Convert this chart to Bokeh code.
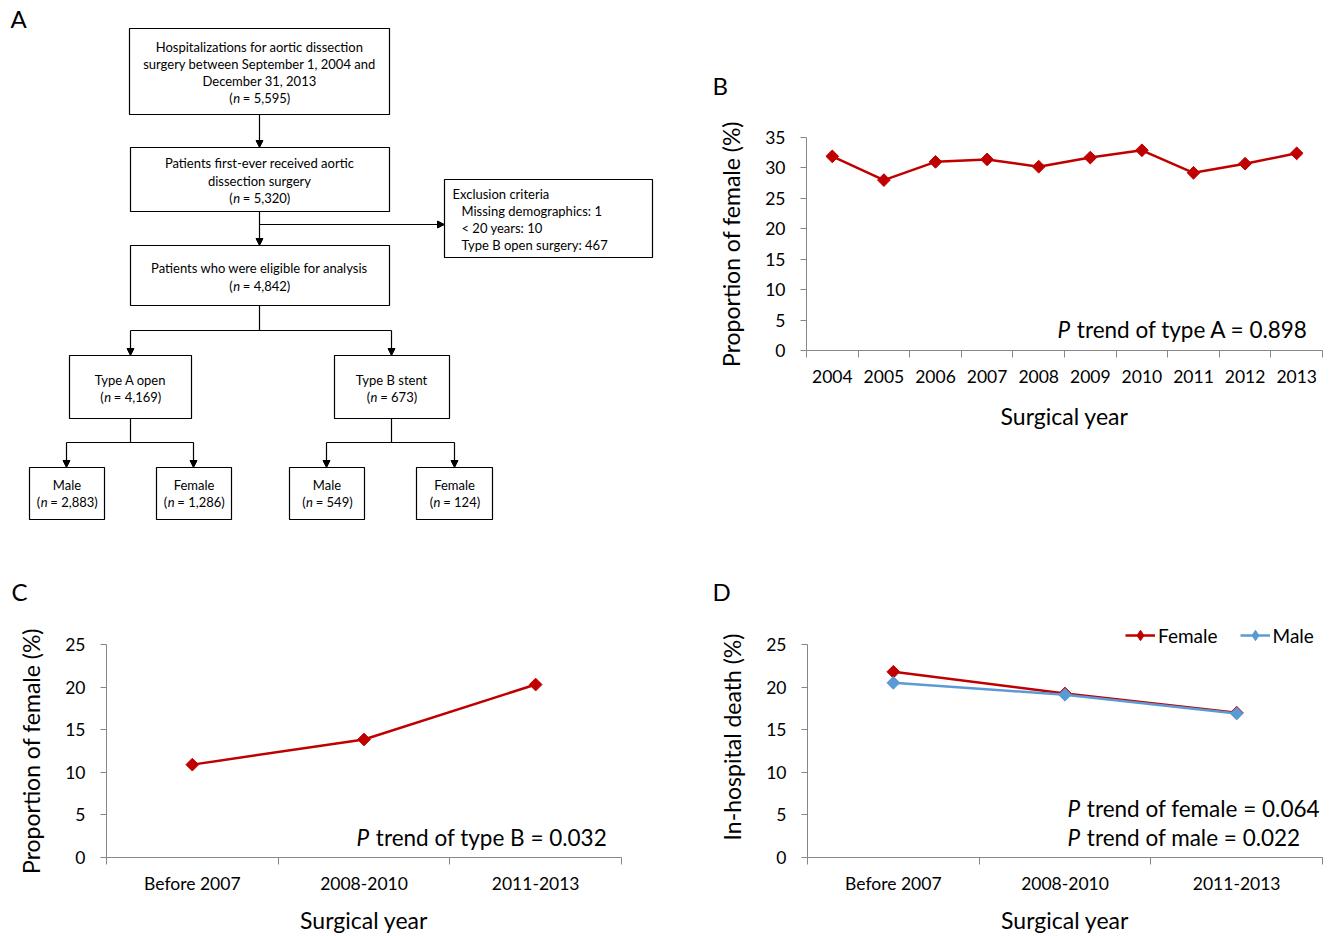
import numpy as np
from bokeh.plotting import figure
from bokeh.layouts import column, row
from bokeh.models import Range1d, FixedTicker, Label, Legend, LegendItem, Arrow, NormalHead
from bokeh.embed import file_html
from bokeh.resources import INLINE
from bokeh.core.properties import value

FONT = "Lato"
RED = "#C00000"
BLUE = "#5B9BD5"
GREY = "#868686"

# ---------------- data ----------------
years = ["2004", "2005", "2006", "2007", "2008", "2009", "2010", "2011", "2012", "2013"]
female_pct_type_a = [31.9, 28.0, 31.0, 31.4, 30.2, 31.7, 32.9, 29.2, 30.7, 32.4]

periods = ["Before 2007", "2008-2010", "2011-2013"]
female_pct_type_b = [10.9, 13.85, 20.3]
death_female = [21.8, 19.25, 17.0]
death_male = [20.5, 19.1, 16.9]

yticks_b = [0, 5, 10, 15, 20, 25, 30, 35]
yticks_cd = [0, 5, 10, 15, 20, 25]

p_trend_a = "0.898"
p_trend_b = "0.032"
p_trend_female = "0.064"
p_trend_male = "0.022"

# flowchart counts
n_hosp = "5,595"
n_first = "5,320"
n_eligible = "4,842"
n_type_a = "4,169"
n_type_b = "673"
n_a_male = "2,883"
n_a_female = "1,286"
n_b_male = "549"
n_b_female = "124"
excl_missing = 1
excl_young = 10
excl_typeb_open = 467


def text_width(s, fs):
    w = {" ": 0.19, "(": 0.30, ")": 0.30, "=": 0.55, ",": 0.24, ".": 0.24, "n": 0.55}
    tot = 0.0
    for c in s:
        if c.isdigit():
            tot += 0.58
        else:
            tot += w.get(c, 0.5)
    return tot * fs


def blank(width, height):
    p = figure(width=width, height=height, x_range=Range1d(0, width), y_range=Range1d(height, 0),
               output_backend="svg", toolbar_location=None,
               x_axis_location=None, y_axis_location=None, min_border=0,
               outline_line_color=None)
    p.grid.visible = False
    p.frame_align = False
    return p


# ---------------- panel A: flowchart ----------------
FS = 13
pa = blank(700, 530)


def txt(p, x, y, s, align="center", size=FS, style="normal"):
    p.text(x=[x], y=[y], text=[s], text_font=value(FONT), text_font_size=f"{size}px",
           text_align=align, text_baseline="middle", text_color="black",
           text_font_style=style)


def n_line(p, cx, y, count):
    rest = f"= {count})"
    w_open = text_width("(", FS)
    w_n = text_width("n", FS)
    w_sp = text_width(" ", FS)
    w_rest = text_width(rest, FS)
    x0 = cx - (w_open + w_n + w_sp + w_rest) / 2
    txt(p, x0, y, "(", align="left")
    txt(p, x0 + w_open, y, "n", align="left", style="italic")
    txt(p, x0 + w_open + w_n + w_sp, y, rest, align="left")


def box(p, l, r, t, b):
    p.quad(left=[l], right=[r], top=[t], bottom=[b], fill_color=None,
           line_color="black", line_width=1.2)


def arrow(p, x0, y0, x1, y1):
    p.add_layout(Arrow(end=NormalHead(size=7, fill_color="black", line_color="black", line_width=1),
                       x_start=x0, y_start=y0, x_end=x1, y_end=y1,
                       line_color="black", line_width=1.2))


def seg(p, x0, y0, x1, y1):
    p.segment(x0=[x0], y0=[y0], x1=[x1], y1=[y1], line_color="black", line_width=1.2)


txt(pa, 10, 18, "A", align="left", size=24)

box(pa, 129, 389, 28, 114)
txt(pa, 259, 46, "Hospitalizations for aortic dissection")
txt(pa, 259, 63, "surgery between September 1, 2004 and")
txt(pa, 259, 80, "December 31, 2013")
n_line(pa, 259, 97, n_hosp)
arrow(pa, 259, 114, 259, 147)

box(pa, 130, 389, 147, 211)
txt(pa, 259, 162, "Patients first-ever received aortic")
txt(pa, 259, 180, "dissection surgery")
n_line(pa, 259, 197, n_first)
arrow(pa, 259, 211, 259, 245)
arrow(pa, 259, 224, 444, 224)

box(pa, 444, 652, 179, 257)
txt(pa, 452, 193, "Exclusion criteria", align="left")
txt(pa, 461, 210, f"Missing demographics: {excl_missing}", align="left")
txt(pa, 461, 227, f"< 20 years: {excl_young}", align="left")
txt(pa, 461, 244, f"Type B open surgery: {excl_typeb_open}", align="left")

box(pa, 130, 389, 245, 305)
txt(pa, 259, 267, "Patients who were eligible for analysis")
n_line(pa, 259, 285, n_eligible)
seg(pa, 259, 305, 259, 330)
seg(pa, 130, 330, 391, 330)
arrow(pa, 130, 330, 130, 355)
arrow(pa, 391, 330, 391, 355)

box(pa, 69, 191, 355, 418)
txt(pa, 130, 379, "Type A open")
n_line(pa, 130, 396, n_type_a)
box(pa, 334, 449, 355, 418)
txt(pa, 391, 379, "Type B stent")
n_line(pa, 391, 396, n_type_b)

seg(pa, 130, 418, 130, 442)
seg(pa, 66, 442, 193, 442)
arrow(pa, 66, 442, 66, 467)
arrow(pa, 193, 442, 193, 467)
seg(pa, 391, 418, 391, 442)
seg(pa, 326, 442, 454, 442)
arrow(pa, 326, 442, 326, 467)
arrow(pa, 454, 442, 454, 467)

for (l, r, lab, cnt) in [(29, 104, "Male", n_a_male), (156, 231, "Female", n_a_female),
                         (289, 364, "Male", n_b_male), (416, 492, "Female", n_b_female)]:
    box(pa, l, r, 467, 519)
    cx = (l + r) / 2
    txt(pa, cx, 484, lab)
    n_line(pa, cx, 501, cnt)


# ---------------- chart helpers ----------------
def make_chart(width, height, ncat, ymax, yaxis_max, bl, br, bt, bb, xlabels, yticks, ylab,
               tick_standoff, xl_standoff):
    p = figure(width=width, height=height, x_range=Range1d(-0.5, ncat - 0.5),
               y_range=Range1d(0, ymax), output_backend="svg", toolbar_location=None,
               min_border_left=bl, min_border_right=br, min_border_top=bt,
               min_border_bottom=bb, outline_line_color=None)
    p.frame_align = False
    p.grid.visible = False
    xa = p.xaxis[0]
    xa.ticker = FixedTicker(ticks=list(range(ncat)),
                            minor_ticks=[i - 0.5 for i in range(ncat + 1)])
    xa.major_label_overrides = {i: lab for i, lab in enumerate(xlabels)}
    xa.major_tick_line_color = None
    xa.major_tick_out = 0
    xa.major_tick_in = 0
    xa.minor_tick_line_color = GREY
    xa.minor_tick_out = 7
    xa.minor_tick_in = 0
    xa.major_label_standoff = tick_standoff
    xa.axis_label = "Surgical year"
    xa.axis_label_standoff = xl_standoff
    ya = p.yaxis[0]
    ya.ticker = FixedTicker(ticks=yticks)
    ya.bounds = (0, yaxis_max)
    ya.minor_tick_line_color = None
    ya.major_tick_out = 6
    ya.major_tick_in = 0
    ya.major_tick_line_color = GREY
    ya.major_label_standoff = 15
    ya.axis_label = ylab
    ya.axis_label_standoff = 17
    for ax in (xa, ya):
        ax.axis_line_color = GREY
        ax.axis_line_width = 1
        ax.major_label_text_font = FONT
        ax.major_label_text_font_size = "17.5px"
        ax.major_label_text_color = "black"
        ax.axis_label_text_font = FONT
        ax.axis_label_text_font_size = "23px"
        ax.axis_label_text_font_style = "normal"
        ax.axis_label_text_color = "black"
    return p


def to_data(frame_left, frame_right, frame_top, frame_bottom, ncat, ymax):
    def fx(px):
        return -0.5 + (px - frame_left) / (frame_right - frame_left) * ncat

    def fy(py):
        return (frame_bottom - py) / (frame_bottom - frame_top) * ymax
    return fx, fy


PT = 22.5


def add_text(p, x, y, s, size, style="normal"):
    p.add_layout(Label(x=x, y=y, text=s, text_font=FONT, text_font_size=f"{size}px",
                       text_font_style=style, text_baseline="middle", text_align="left",
                       text_color="black"))


def p_trend(p, fx, fy, px_left, py, rest):
    add_text(p, fx(px_left), fy(py), "P", PT, style="italic")
    add_text(p, fx(px_left + 0.86 * PT), fy(py), rest, PT)


def series(p, xs, ys, color):
    lr = p.line(xs, ys, line_color=color, line_width=2.5)
    # diamond key for the legend, drawn beneath (and hidden by) the rotated-square marker
    kr = p.scatter(xs, ys, marker="diamond", size=11, fill_color=color, line_color=color)
    sr = p.scatter(xs, ys, marker="square", angle=np.pi / 4, size=9,
                   fill_color=color, line_color=color)
    return lr, kr, sr


# ---------------- panel B ----------------
hb = blank(632, 100)
txt(hb, 12, 85, "B", align="left", size=24)
pb = make_chart(632, 430, len(years), 35, 35, 106, 10, 37, 180, years, yticks_b,
                "Proportion of female (%)", 12, 16)
fxb, fyb = to_data(806, 1322, 137, 350, len(years), 35)
series(pb, list(range(len(years))), female_pct_type_a, RED)
p_trend(pb, fxb, fyb, 1057, 329, f"trend of type A = {p_trend_a}")

# ---------------- panel C ----------------
hc = blank(700, 90)
txt(hc, 11, 61, "C", align="left", size=24)
pc = make_chart(700, 316, len(periods), 25, 25, 106, 79, 24, 79, periods, yticks_cd,
                "Proportion of female (%)", 8, 9)
fxc, fyc = to_data(106, 621, 644, 857, len(periods), 25)
series(pc, list(range(len(periods))), female_pct_type_b, RED)
p_trend(pc, fxc, fyc, 356, 837, f"trend of type B = {p_trend_b}")

# ---------------- panel D ----------------
# frame extends above the 25 line so that the legend sits inside it
D_TOP, D_BOTTOM, D_25 = 616, 857, 644
ymax_d = 25 * (D_BOTTOM - D_TOP) / (D_BOTTOM - D_25)
hd = blank(632, 76)
txt(hd, 12, 61, "D", align="left", size=24)
pd_ = make_chart(632, 330, len(periods), ymax_d, 25, 107, 10, 10, 79, periods, yticks_cd,
                 "In-hospital death (%)", 8, 9)
fxd, fyd = to_data(807, 1322, D_TOP, D_BOTTOM, len(periods), ymax_d)
lf, kf, sf = series(pd_, list(range(len(periods))), death_female, RED)
lm, km, sm = series(pd_, list(range(len(periods))), death_male, BLUE)
p_trend(pd_, fxd, fyd, 1067, 808, f"trend of female = {p_trend_female}")
p_trend(pd_, fxd, fyd, 1067, 837, f"trend of male = {p_trend_male}")

legend = Legend(items=[LegendItem(label="Female", renderers=[lf, kf]),
                       LegendItem(label="Male", renderers=[lm, km])],
                orientation="horizontal", location=(1125 - 807, D_BOTTOM - 648),
                glyph_width=30, glyph_height=26, label_standoff=3, spacing=22,
                padding=0, margin=0, border_line_color=None, background_fill_alpha=0,
                label_text_font=FONT, label_text_font_size="19px",
                label_text_color="black")
pd_.add_layout(legend)

layout = column(row(pa, column(hb, pb)), row(column(hc, pc), column(hd, pd_)))
open("out.html", "w").write(file_html(layout, INLINE))
